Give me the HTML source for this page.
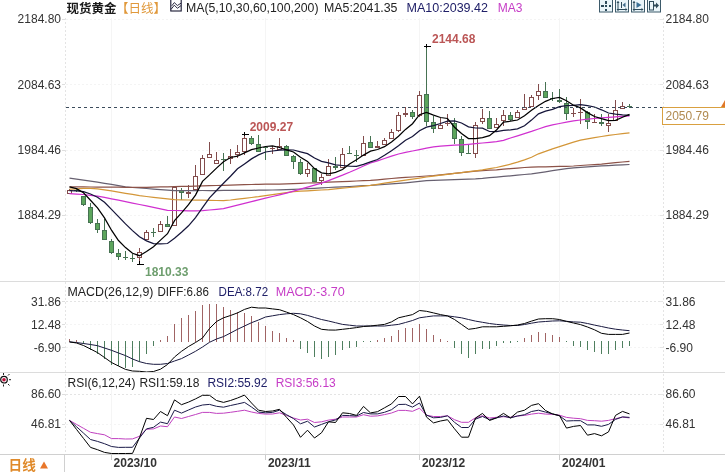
<!DOCTYPE html>
<html><head><meta charset="utf-8">
<style>
html,body{margin:0;padding:0;background:#fff;}
#root{position:relative;width:725px;height:472px;overflow:hidden;background:#fff;font-family:"Liberation Sans","Noto Sans CJK SC",sans-serif;}
</style></head><body><div id="root">
<svg width="725" height="472" viewBox="0 0 725 472" style="position:absolute;left:0;top:0">
<g shape-rendering="crispEdges">
<rect x="0" y="281" width="725" height="1" fill="#dcdcdc"/>
<rect x="0" y="372" width="725" height="1" fill="#dcdcdc"/>
<rect x="0" y="454" width="725" height="1" fill="#d0d0d0"/>
<rect x="64" y="454" width="1" height="18" fill="#d0d0d0"/>
<line x1="65.5" y1="18" x2="65.5" y2="454" stroke="#e4e4e4" stroke-width="1" stroke-dasharray="2,2"/>
<line x1="663.5" y1="18" x2="663.5" y2="454" stroke="#e4e4e4" stroke-width="1" stroke-dasharray="2,2"/>
<line x1="66" y1="19.5" x2="663" y2="19.5" stroke="#f4f4f4" stroke-width="1" stroke-dasharray="2,2"/>
<rect x="62" y="19" width="3" height="1" fill="#dedede"/>
<rect x="660" y="19" width="3" height="1" fill="#e6e6e6"/>
<line x1="66" y1="84.5" x2="663" y2="84.5" stroke="#f4f4f4" stroke-width="1" stroke-dasharray="2,2"/>
<rect x="62" y="84" width="3" height="1" fill="#dedede"/>
<rect x="660" y="84" width="3" height="1" fill="#e6e6e6"/>
<line x1="66" y1="150.5" x2="663" y2="150.5" stroke="#f4f4f4" stroke-width="1" stroke-dasharray="2,2"/>
<rect x="62" y="150" width="3" height="1" fill="#dedede"/>
<rect x="660" y="150" width="3" height="1" fill="#e6e6e6"/>
<line x1="66" y1="215.5" x2="663" y2="215.5" stroke="#f4f4f4" stroke-width="1" stroke-dasharray="2,2"/>
<rect x="62" y="215" width="3" height="1" fill="#dedede"/>
<rect x="660" y="215" width="3" height="1" fill="#e6e6e6"/>
<line x1="66" y1="301.5" x2="663" y2="301.5" stroke="#e4e4e4" stroke-width="1" stroke-dasharray="2,2"/>
<rect x="62" y="301" width="3" height="1" fill="#dedede"/>
<rect x="660" y="301" width="3" height="1" fill="#e6e6e6"/>
<line x1="66" y1="324.5" x2="663" y2="324.5" stroke="#f4f4f4" stroke-width="1" stroke-dasharray="2,2"/>
<rect x="62" y="324" width="3" height="1" fill="#dedede"/>
<rect x="660" y="324" width="3" height="1" fill="#e6e6e6"/>
<line x1="66" y1="347.5" x2="663" y2="347.5" stroke="#f4f4f4" stroke-width="1" stroke-dasharray="2,2"/>
<rect x="62" y="347" width="3" height="1" fill="#dedede"/>
<rect x="660" y="347" width="3" height="1" fill="#e6e6e6"/>
<line x1="66" y1="394.5" x2="663" y2="394.5" stroke="#e4e4e4" stroke-width="1" stroke-dasharray="2,2"/>
<rect x="62" y="394" width="3" height="1" fill="#dedede"/>
<rect x="660" y="394" width="3" height="1" fill="#e6e6e6"/>
<line x1="66" y1="424.5" x2="663" y2="424.5" stroke="#f4f4f4" stroke-width="1" stroke-dasharray="2,2"/>
<rect x="62" y="424" width="3" height="1" fill="#dedede"/>
<rect x="660" y="424" width="3" height="1" fill="#e6e6e6"/>
<line x1="111.5" y1="18" x2="111.5" y2="454" stroke="#f5f5f5" stroke-width="1"/>
<rect x="111" y="455" width="1" height="5" fill="#cccccc"/>
<line x1="265.5" y1="18" x2="265.5" y2="454" stroke="#f5f5f5" stroke-width="1"/>
<rect x="265" y="455" width="1" height="5" fill="#cccccc"/>
<line x1="419.5" y1="18" x2="419.5" y2="454" stroke="#f5f5f5" stroke-width="1"/>
<rect x="419" y="455" width="1" height="5" fill="#cccccc"/>
<line x1="559.5" y1="18" x2="559.5" y2="454" stroke="#f5f5f5" stroke-width="1"/>
<rect x="559" y="455" width="1" height="5" fill="#cccccc"/>
</g>
<g shape-rendering="crispEdges">
<rect x="69" y="189" width="1" height="1" fill="#824c4c"/>
<rect x="67.5" y="190.5" width="4" height="3" fill="#fff" stroke="#824c4c" stroke-width="1"/>
<rect x="76" y="188" width="1" height="2" fill="#467252"/>
<rect x="76" y="191" width="1" height="1" fill="#467252"/>
<rect x="74" y="190" width="5" height="1" fill="#467252"/>
<rect x="83" y="205" width="1" height="1" fill="#467252"/>
<rect x="81.5" y="196.5" width="4" height="8" fill="#5ca55c" stroke="#467252" stroke-width="1"/>
<rect x="90" y="203" width="1" height="4" fill="#467252"/>
<rect x="90" y="223" width="1" height="1" fill="#467252"/>
<rect x="88.5" y="207.5" width="4" height="15" fill="#5ca55c" stroke="#467252" stroke-width="1"/>
<rect x="97" y="219" width="1" height="4" fill="#467252"/>
<rect x="97" y="230" width="1" height="3" fill="#467252"/>
<rect x="95.5" y="223.5" width="4" height="6" fill="#5ca55c" stroke="#467252" stroke-width="1"/>
<rect x="104" y="219" width="1" height="11" fill="#467252"/>
<rect x="102.5" y="230.5" width="4" height="9" fill="#5ca55c" stroke="#467252" stroke-width="1"/>
<rect x="111" y="239" width="1" height="2" fill="#467252"/>
<rect x="111" y="253" width="1" height="1" fill="#467252"/>
<rect x="109.5" y="241.5" width="4" height="11" fill="#5ca55c" stroke="#467252" stroke-width="1"/>
<rect x="118" y="249" width="1" height="4" fill="#467252"/>
<rect x="118" y="257" width="1" height="3" fill="#467252"/>
<rect x="116.5" y="253.5" width="4" height="3" fill="#5ca55c" stroke="#467252" stroke-width="1"/>
<rect x="125" y="251" width="1" height="6" fill="#467252"/>
<rect x="125" y="258" width="1" height="2" fill="#467252"/>
<rect x="123" y="257" width="5" height="1" fill="#467252"/>
<rect x="132" y="254" width="1" height="4" fill="#467252"/>
<rect x="132" y="259" width="1" height="3" fill="#467252"/>
<rect x="130" y="258" width="5" height="1" fill="#467252"/>
<rect x="139" y="248" width="1" height="4" fill="#824c4c"/>
<rect x="139" y="258" width="1" height="6" fill="#824c4c"/>
<rect x="137.5" y="252.5" width="4" height="5" fill="#fff" stroke="#824c4c" stroke-width="1"/>
<rect x="146" y="230" width="1" height="2" fill="#824c4c"/>
<rect x="144.5" y="232.5" width="4" height="7" fill="#fff" stroke="#824c4c" stroke-width="1"/>
<rect x="153" y="228" width="1" height="4" fill="#467252"/>
<rect x="153" y="233" width="1" height="4" fill="#467252"/>
<rect x="151" y="232" width="5" height="1" fill="#467252"/>
<rect x="160" y="221" width="1" height="3" fill="#824c4c"/>
<rect x="158.5" y="224.5" width="4" height="7" fill="#fff" stroke="#824c4c" stroke-width="1"/>
<rect x="167" y="216" width="1" height="8" fill="#467252"/>
<rect x="165.5" y="224.5" width="4" height="2" fill="#5ca55c" stroke="#467252" stroke-width="1"/>
<rect x="174" y="186" width="1" height="1" fill="#824c4c"/>
<rect x="172.5" y="187.5" width="4" height="38" fill="#fff" stroke="#824c4c" stroke-width="1"/>
<rect x="181" y="188" width="1" height="2" fill="#467252"/>
<rect x="181" y="193" width="1" height="7" fill="#467252"/>
<rect x="179.5" y="190.5" width="4" height="2" fill="#5ca55c" stroke="#467252" stroke-width="1"/>
<rect x="188" y="185" width="1" height="7" fill="#824c4c"/>
<rect x="188" y="194" width="1" height="4" fill="#824c4c"/>
<rect x="186" y="192" width="5" height="2" fill="#824c4c"/>
<rect x="195" y="165" width="1" height="11" fill="#824c4c"/>
<rect x="193.5" y="176.5" width="4" height="13" fill="#fff" stroke="#824c4c" stroke-width="1"/>
<rect x="202" y="155" width="1" height="3" fill="#824c4c"/>
<rect x="200.5" y="158.5" width="4" height="16" fill="#fff" stroke="#824c4c" stroke-width="1"/>
<rect x="209" y="142" width="1" height="12" fill="#824c4c"/>
<rect x="207.5" y="154.5" width="4" height="3" fill="#fff" stroke="#824c4c" stroke-width="1"/>
<rect x="216" y="152" width="1" height="8" fill="#824c4c"/>
<rect x="214.5" y="160.5" width="4" height="3" fill="#fff" stroke="#824c4c" stroke-width="1"/>
<rect x="223" y="153" width="1" height="6" fill="#467252"/>
<rect x="223" y="160" width="1" height="11" fill="#467252"/>
<rect x="221" y="159" width="5" height="1" fill="#467252"/>
<rect x="230" y="149" width="1" height="7" fill="#824c4c"/>
<rect x="230" y="159" width="1" height="5" fill="#824c4c"/>
<rect x="228.5" y="156.5" width="4" height="2" fill="#fff" stroke="#824c4c" stroke-width="1"/>
<rect x="237" y="145" width="1" height="7" fill="#824c4c"/>
<rect x="237" y="155" width="1" height="3" fill="#824c4c"/>
<rect x="235.5" y="152.5" width="4" height="2" fill="#fff" stroke="#824c4c" stroke-width="1"/>
<rect x="244" y="134" width="1" height="4" fill="#824c4c"/>
<rect x="244" y="152" width="1" height="3" fill="#824c4c"/>
<rect x="242.5" y="138.5" width="4" height="13" fill="#fff" stroke="#824c4c" stroke-width="1"/>
<rect x="251" y="136" width="1" height="2" fill="#467252"/>
<rect x="251" y="144" width="1" height="1" fill="#467252"/>
<rect x="249.5" y="138.5" width="4" height="5" fill="#5ca55c" stroke="#467252" stroke-width="1"/>
<rect x="258" y="135" width="1" height="9" fill="#467252"/>
<rect x="256.5" y="144.5" width="4" height="7" fill="#5ca55c" stroke="#467252" stroke-width="1"/>
<rect x="265" y="146" width="1" height="1" fill="#467252"/>
<rect x="265" y="148" width="1" height="12" fill="#467252"/>
<rect x="263" y="147" width="5" height="1" fill="#467252"/>
<rect x="272" y="146" width="1" height="2" fill="#824c4c"/>
<rect x="272" y="149" width="1" height="5" fill="#824c4c"/>
<rect x="270" y="148" width="5" height="1" fill="#824c4c"/>
<rect x="279" y="138" width="1" height="8" fill="#824c4c"/>
<rect x="277.5" y="146.5" width="4" height="3" fill="#fff" stroke="#824c4c" stroke-width="1"/>
<rect x="286" y="145" width="1" height="1" fill="#467252"/>
<rect x="284.5" y="146.5" width="4" height="9" fill="#5ca55c" stroke="#467252" stroke-width="1"/>
<rect x="293" y="155" width="1" height="1" fill="#467252"/>
<rect x="293" y="162" width="1" height="7" fill="#467252"/>
<rect x="291.5" y="156.5" width="4" height="5" fill="#5ca55c" stroke="#467252" stroke-width="1"/>
<rect x="300" y="159" width="1" height="3" fill="#467252"/>
<rect x="300" y="174" width="1" height="1" fill="#467252"/>
<rect x="298.5" y="162.5" width="4" height="11" fill="#5ca55c" stroke="#467252" stroke-width="1"/>
<rect x="307" y="163" width="1" height="6" fill="#824c4c"/>
<rect x="307" y="174" width="1" height="3" fill="#824c4c"/>
<rect x="305.5" y="169.5" width="4" height="4" fill="#fff" stroke="#824c4c" stroke-width="1"/>
<rect x="312.5" y="168.5" width="4" height="13" fill="#5ca55c" stroke="#467252" stroke-width="1"/>
<rect x="321" y="174" width="1" height="3" fill="#824c4c"/>
<rect x="321" y="181" width="1" height="4" fill="#824c4c"/>
<rect x="319.5" y="177.5" width="4" height="3" fill="#fff" stroke="#824c4c" stroke-width="1"/>
<rect x="328" y="159" width="1" height="7" fill="#824c4c"/>
<rect x="326.5" y="166.5" width="4" height="9" fill="#fff" stroke="#824c4c" stroke-width="1"/>
<rect x="335" y="157" width="1" height="9" fill="#467252"/>
<rect x="335" y="168" width="1" height="2" fill="#467252"/>
<rect x="333" y="166" width="5" height="2" fill="#467252"/>
<rect x="342" y="148" width="1" height="6" fill="#824c4c"/>
<rect x="340.5" y="154.5" width="4" height="13" fill="#fff" stroke="#824c4c" stroke-width="1"/>
<rect x="349" y="146" width="1" height="7" fill="#467252"/>
<rect x="347" y="153" width="5" height="1" fill="#467252"/>
<rect x="356" y="150" width="1" height="5" fill="#467252"/>
<rect x="356" y="156" width="1" height="6" fill="#467252"/>
<rect x="354" y="155" width="5" height="1" fill="#467252"/>
<rect x="363" y="136" width="1" height="7" fill="#824c4c"/>
<rect x="361.5" y="143.5" width="4" height="12" fill="#fff" stroke="#824c4c" stroke-width="1"/>
<rect x="370" y="136" width="1" height="6" fill="#467252"/>
<rect x="368.5" y="142.5" width="4" height="5" fill="#5ca55c" stroke="#467252" stroke-width="1"/>
<rect x="377" y="141" width="1" height="5" fill="#824c4c"/>
<rect x="375" y="146" width="5" height="2" fill="#824c4c"/>
<rect x="384" y="138" width="1" height="2" fill="#824c4c"/>
<rect x="382.5" y="140.5" width="4" height="4" fill="#fff" stroke="#824c4c" stroke-width="1"/>
<rect x="391" y="129" width="1" height="3" fill="#824c4c"/>
<rect x="389.5" y="132.5" width="4" height="6" fill="#fff" stroke="#824c4c" stroke-width="1"/>
<rect x="398" y="112" width="1" height="3" fill="#824c4c"/>
<rect x="398" y="131" width="1" height="1" fill="#824c4c"/>
<rect x="396.5" y="115.5" width="4" height="15" fill="#fff" stroke="#824c4c" stroke-width="1"/>
<rect x="405" y="107" width="1" height="6" fill="#824c4c"/>
<rect x="405" y="115" width="1" height="2" fill="#824c4c"/>
<rect x="403" y="113" width="5" height="2" fill="#824c4c"/>
<rect x="412" y="110" width="1" height="2" fill="#467252"/>
<rect x="412" y="117" width="1" height="2" fill="#467252"/>
<rect x="410.5" y="112.5" width="4" height="4" fill="#5ca55c" stroke="#467252" stroke-width="1"/>
<rect x="419" y="91" width="1" height="4" fill="#824c4c"/>
<rect x="419" y="116" width="1" height="1" fill="#824c4c"/>
<rect x="417.5" y="95.5" width="4" height="20" fill="#fff" stroke="#824c4c" stroke-width="1"/>
<rect x="426" y="46" width="1" height="48" fill="#467252"/>
<rect x="426" y="122" width="1" height="4" fill="#467252"/>
<rect x="424.5" y="94.5" width="4" height="27" fill="#5ca55c" stroke="#467252" stroke-width="1"/>
<rect x="433" y="116" width="1" height="6" fill="#467252"/>
<rect x="433" y="129" width="1" height="4" fill="#467252"/>
<rect x="431.5" y="122.5" width="4" height="6" fill="#5ca55c" stroke="#467252" stroke-width="1"/>
<rect x="440" y="118" width="1" height="7" fill="#824c4c"/>
<rect x="438.5" y="125.5" width="4" height="3" fill="#fff" stroke="#824c4c" stroke-width="1"/>
<rect x="447" y="114" width="1" height="9" fill="#824c4c"/>
<rect x="447" y="124" width="1" height="2" fill="#824c4c"/>
<rect x="445" y="123" width="5" height="1" fill="#824c4c"/>
<rect x="454" y="118" width="1" height="5" fill="#467252"/>
<rect x="454" y="139" width="1" height="5" fill="#467252"/>
<rect x="452.5" y="123.5" width="4" height="15" fill="#5ca55c" stroke="#467252" stroke-width="1"/>
<rect x="461" y="136" width="1" height="3" fill="#467252"/>
<rect x="461" y="153" width="1" height="3" fill="#467252"/>
<rect x="459.5" y="139.5" width="4" height="13" fill="#5ca55c" stroke="#467252" stroke-width="1"/>
<rect x="468" y="144" width="1" height="9" fill="#467252"/>
<rect x="466" y="153" width="5" height="1" fill="#467252"/>
<rect x="475" y="122" width="1" height="3" fill="#824c4c"/>
<rect x="475" y="154" width="1" height="4" fill="#824c4c"/>
<rect x="473.5" y="125.5" width="4" height="28" fill="#fff" stroke="#824c4c" stroke-width="1"/>
<rect x="482" y="109" width="1" height="9" fill="#824c4c"/>
<rect x="482" y="122" width="1" height="2" fill="#824c4c"/>
<rect x="480.5" y="118.5" width="4" height="3" fill="#fff" stroke="#824c4c" stroke-width="1"/>
<rect x="489" y="111" width="1" height="7" fill="#467252"/>
<rect x="487.5" y="118.5" width="4" height="10" fill="#5ca55c" stroke="#467252" stroke-width="1"/>
<rect x="496" y="118" width="1" height="6" fill="#824c4c"/>
<rect x="494.5" y="124.5" width="4" height="3" fill="#fff" stroke="#824c4c" stroke-width="1"/>
<rect x="503" y="110" width="1" height="5" fill="#824c4c"/>
<rect x="503" y="121" width="1" height="5" fill="#824c4c"/>
<rect x="501.5" y="115.5" width="4" height="5" fill="#fff" stroke="#824c4c" stroke-width="1"/>
<rect x="510" y="112" width="1" height="3" fill="#467252"/>
<rect x="510" y="120" width="1" height="1" fill="#467252"/>
<rect x="508.5" y="115.5" width="4" height="4" fill="#5ca55c" stroke="#467252" stroke-width="1"/>
<rect x="517" y="110" width="1" height="2" fill="#824c4c"/>
<rect x="515.5" y="112.5" width="4" height="5" fill="#fff" stroke="#824c4c" stroke-width="1"/>
<rect x="524" y="94" width="1" height="13" fill="#824c4c"/>
<rect x="522.5" y="107.5" width="4" height="2" fill="#fff" stroke="#824c4c" stroke-width="1"/>
<rect x="531" y="95" width="1" height="2" fill="#824c4c"/>
<rect x="529.5" y="97.5" width="4" height="9" fill="#fff" stroke="#824c4c" stroke-width="1"/>
<rect x="538" y="84" width="1" height="7" fill="#824c4c"/>
<rect x="538" y="96" width="1" height="4" fill="#824c4c"/>
<rect x="536.5" y="91.5" width="4" height="4" fill="#fff" stroke="#824c4c" stroke-width="1"/>
<rect x="545" y="82" width="1" height="9" fill="#467252"/>
<rect x="543.5" y="91.5" width="4" height="6" fill="#5ca55c" stroke="#467252" stroke-width="1"/>
<rect x="552" y="92" width="1" height="6" fill="#467252"/>
<rect x="552" y="99" width="1" height="2" fill="#467252"/>
<rect x="550" y="98" width="5" height="1" fill="#467252"/>
<rect x="559" y="89" width="1" height="11" fill="#467252"/>
<rect x="559" y="102" width="1" height="1" fill="#467252"/>
<rect x="557" y="100" width="5" height="2" fill="#467252"/>
<rect x="566" y="97" width="1" height="6" fill="#467252"/>
<rect x="566" y="114" width="1" height="6" fill="#467252"/>
<rect x="564.5" y="103.5" width="4" height="10" fill="#5ca55c" stroke="#467252" stroke-width="1"/>
<rect x="573" y="108" width="1" height="5" fill="#824c4c"/>
<rect x="573" y="114" width="1" height="3" fill="#824c4c"/>
<rect x="571" y="113" width="5" height="1" fill="#824c4c"/>
<rect x="580" y="99" width="1" height="13" fill="#824c4c"/>
<rect x="580" y="113" width="1" height="11" fill="#824c4c"/>
<rect x="578" y="112" width="5" height="1" fill="#824c4c"/>
<rect x="587" y="111" width="1" height="1" fill="#467252"/>
<rect x="587" y="122" width="1" height="7" fill="#467252"/>
<rect x="585.5" y="112.5" width="4" height="9" fill="#5ca55c" stroke="#467252" stroke-width="1"/>
<rect x="594" y="114" width="1" height="8" fill="#824c4c"/>
<rect x="592" y="122" width="5" height="1" fill="#824c4c"/>
<rect x="601" y="114" width="1" height="8" fill="#467252"/>
<rect x="601" y="124" width="1" height="2" fill="#467252"/>
<rect x="599" y="122" width="5" height="2" fill="#467252"/>
<rect x="608" y="114" width="1" height="9" fill="#824c4c"/>
<rect x="608" y="126" width="1" height="6" fill="#824c4c"/>
<rect x="606.5" y="123.5" width="4" height="2" fill="#fff" stroke="#824c4c" stroke-width="1"/>
<rect x="615" y="100" width="1" height="10" fill="#824c4c"/>
<rect x="613.5" y="110.5" width="4" height="10" fill="#fff" stroke="#824c4c" stroke-width="1"/>
<rect x="622" y="102" width="1" height="4" fill="#824c4c"/>
<rect x="620.5" y="106.5" width="4" height="2" fill="#fff" stroke="#824c4c" stroke-width="1"/>
<rect x="629" y="104" width="1" height="2" fill="#467252"/>
<rect x="629" y="107" width="1" height="1" fill="#467252"/>
<rect x="627" y="106" width="5" height="1" fill="#467252"/>
</g>
<polyline points="69.5,178.1 76.5,179.1 83.5,180.1 90.5,181.1 97.5,182.1 104.5,183.3 111.5,184.4 118.5,185.6 125.5,186.8 132.5,187.5 139.5,188.0 146.5,188.5 153.5,189.1 160.5,189.6 167.5,190.1 174.5,190.6 181.5,190.7 188.5,190.6 195.5,190.6 202.5,190.5 209.5,190.5 216.5,190.5 223.5,190.4 230.5,190.4 237.5,190.3 244.5,190.3 251.5,190.3 258.5,190.2 265.5,190.1 272.5,190.0 279.5,189.9 286.5,189.7 293.5,189.4 300.5,189.0 307.5,188.6 314.5,188.3 321.5,187.9 328.5,187.5 335.5,187.2 342.5,186.8 349.5,186.5 356.5,186.1 363.5,185.7 370.5,185.4 377.5,184.9 384.5,184.4 391.5,183.9 398.5,183.4 405.5,182.8 412.5,182.1 419.5,181.4 426.5,180.7 433.5,180.3 440.5,180.1 447.5,179.8 454.5,179.6 461.5,179.4 468.5,179.1 475.5,178.9 482.5,178.4 489.5,177.7 496.5,177.1 503.5,176.4 510.5,175.8 517.5,175.2 524.5,174.5 531.5,173.8 538.5,172.8 545.5,171.8 552.5,170.7 559.5,169.7 566.5,168.7 573.5,167.9 580.5,167.4 587.5,166.9 594.5,166.4 601.5,165.9 608.5,165.6 615.5,165.2 622.5,164.8 629.5,164.5" fill="none" stroke="#676070" stroke-width="1.25" />
<polyline points="69.5,186.8 76.5,186.9 83.5,186.9 90.5,187.0 97.5,187.0 104.5,187.1 111.5,187.2 118.5,187.2 125.5,187.3 132.5,187.3 139.5,187.4 146.5,187.3 153.5,187.1 160.5,186.9 167.5,186.8 174.5,186.6 181.5,186.4 188.5,186.3 195.5,186.1 202.5,185.9 209.5,185.7 216.5,185.5 223.5,185.3 230.5,185.1 237.5,184.9 244.5,184.7 251.5,184.5 258.5,184.3 265.5,184.2 272.5,184.2 279.5,184.1 286.5,183.9 293.5,183.6 300.5,183.3 307.5,183.0 314.5,182.8 321.5,182.5 328.5,182.2 335.5,181.9 342.5,181.6 349.5,181.3 356.5,181.0 363.5,180.7 370.5,180.4 377.5,179.8 384.5,179.1 391.5,178.5 398.5,177.9 405.5,177.4 412.5,177.0 419.5,176.5 426.5,176.0 433.5,175.5 440.5,174.8 447.5,174.1 454.5,173.3 461.5,172.7 468.5,171.9 475.5,171.2 482.5,170.7 489.5,170.2 496.5,169.8 503.5,169.2 510.5,168.7 517.5,168.1 524.5,167.5 531.5,167.1 538.5,166.9 545.5,166.8 552.5,166.6 559.5,166.4 566.5,166.3 573.5,166.0 580.5,165.5 587.5,165.0 594.5,164.6 601.5,164.1 608.5,163.4 615.5,162.7 622.5,162.0 629.5,161.4" fill="none" stroke="#8c5248" stroke-width="1.25" />
<polyline points="69.5,189.2 76.5,188.8 83.5,188.4 90.5,188.4 97.5,188.8 104.5,189.8 111.5,190.9 118.5,192.1 125.5,193.3 132.5,194.4 139.5,195.6 146.5,196.5 153.5,197.3 160.5,198.1 167.5,198.9 174.5,199.7 181.5,199.9 188.5,200.0 195.5,200.1 202.5,200.2 209.5,200.4 216.5,200.5 223.5,200.6 230.5,200.0 237.5,199.1 244.5,198.3 251.5,197.5 258.5,196.7 265.5,195.7 272.5,194.7 279.5,193.7 286.5,192.7 293.5,191.7 300.5,191.2 307.5,190.8 314.5,190.4 321.5,190.0 328.5,189.6 335.5,188.9 342.5,188.2 349.5,187.5 356.5,186.8 363.5,186.1 370.5,185.3 377.5,184.3 384.5,183.2 391.5,182.2 398.5,181.2 405.5,180.1 412.5,179.1 419.5,178.1 426.5,177.0 433.5,176.1 440.5,175.2 447.5,174.3 454.5,173.4 461.5,172.6 468.5,171.7 475.5,170.8 482.5,169.8 489.5,168.6 496.5,167.5 503.5,165.9 510.5,164.2 517.5,162.2 524.5,159.9 531.5,157.3 538.5,153.8 545.5,151.3 552.5,148.9 559.5,146.6 566.5,144.3 573.5,142.2 580.5,140.1 587.5,138.8 594.5,137.6 601.5,136.5 608.5,135.4 615.5,134.5 622.5,133.7 629.5,132.9" fill="none" stroke="#d39638" stroke-width="1.25" />
<polyline points="69.5,193.6 76.5,194.1 83.5,194.5 90.5,195.3 97.5,196.2 104.5,197.4 111.5,198.8 118.5,200.2 125.5,201.7 132.5,203.1 139.5,204.5 146.5,205.9 153.5,207.4 160.5,208.8 167.5,210.3 174.5,210.5 181.5,210.7 188.5,210.8 195.5,210.9 202.5,210.7 209.5,210.0 216.5,209.3 223.5,208.6 230.5,206.9 237.5,205.1 244.5,203.4 251.5,201.6 258.5,199.9 265.5,198.2 272.5,196.5 279.5,194.8 286.5,193.1 293.5,191.1 300.5,189.2 307.5,187.2 314.5,185.2 321.5,183.2 328.5,180.6 335.5,177.9 342.5,175.2 349.5,172.3 356.5,169.2 363.5,166.0 370.5,163.0 377.5,160.8 384.5,158.5 391.5,156.2 398.5,154.0 405.5,152.4 412.5,151.0 419.5,149.6 426.5,148.2 433.5,146.8 440.5,146.1 447.5,145.7 454.5,145.2 461.5,144.8 468.5,144.3 475.5,143.7 482.5,143.0 489.5,142.4 496.5,141.7 503.5,140.3 510.5,138.0 517.5,135.8 524.5,133.6 531.5,131.4 538.5,129.0 545.5,126.7 552.5,124.9 559.5,123.5 566.5,122.2 573.5,120.8 580.5,120.0 587.5,119.2 594.5,118.5 601.5,117.9 608.5,117.4 615.5,116.9 622.5,116.4 629.5,116.0" fill="none" stroke="#d030d0" stroke-width="1.25" />
<polyline points="69.5,190.7 76.5,190.8 83.5,191.7 90.5,194.0 97.5,197.2 104.5,202.3 111.5,209.4 118.5,216.6 125.5,223.9 132.5,230.6 139.5,236.8 146.5,240.9 153.5,243.7 160.5,243.8 167.5,243.5 174.5,238.2 181.5,232.2 188.5,225.8 195.5,217.6 202.5,207.6 209.5,197.8 216.5,190.5 223.5,183.2 230.5,176.3 237.5,168.8 244.5,163.9 251.5,158.9 258.5,154.9 265.5,152.0 272.5,151.0 279.5,150.2 286.5,149.8 293.5,150.0 300.5,151.9 307.5,153.7 314.5,158.0 321.5,161.4 328.5,162.9 335.5,164.8 342.5,165.5 349.5,166.2 356.5,166.3 363.5,164.4 370.5,161.8 377.5,159.5 384.5,155.3 391.5,150.8 398.5,145.7 405.5,140.3 412.5,136.6 419.5,130.7 426.5,127.2 433.5,125.7 440.5,123.5 447.5,121.1 454.5,121.0 461.5,123.0 468.5,126.9 475.5,128.0 482.5,128.1 489.5,131.5 496.5,131.7 503.5,130.4 510.5,129.9 517.5,128.9 524.5,125.7 531.5,120.1 538.5,113.9 545.5,111.2 552.5,109.3 559.5,106.6 566.5,105.6 573.5,105.3 580.5,104.6 587.5,105.6 594.5,107.0 601.5,109.8 608.5,113.0 615.5,114.2 622.5,114.9 629.5,115.4" fill="none" stroke="#15153a" stroke-width="1.25" />
<polyline points="69.5,186.8 76.5,188.6 83.5,192.7 90.5,200.2 97.5,207.9 104.5,217.9 111.5,230.2 118.5,240.5 125.5,247.6 132.5,253.3 139.5,255.7 146.5,251.5 153.5,246.8 160.5,240.1 167.5,233.7 174.5,220.7 181.5,212.9 188.5,204.7 195.5,195.1 202.5,181.4 209.5,174.9 216.5,168.1 223.5,161.7 230.5,157.5 237.5,156.2 244.5,152.9 251.5,149.7 258.5,148.0 265.5,146.5 272.5,145.8 279.5,147.5 286.5,149.9 293.5,152.0 300.5,157.2 307.5,161.5 314.5,168.6 321.5,172.9 328.5,173.8 335.5,172.4 342.5,169.5 349.5,163.9 356.5,159.7 363.5,155.1 370.5,151.1 377.5,149.5 384.5,146.7 391.5,141.9 398.5,136.3 405.5,129.4 412.5,123.7 419.5,114.7 426.5,112.5 433.5,115.2 440.5,117.5 447.5,118.5 454.5,127.2 461.5,133.5 468.5,138.6 475.5,138.6 482.5,137.7 489.5,135.7 496.5,130.0 503.5,122.2 510.5,121.2 517.5,120.0 524.5,115.7 531.5,110.3 538.5,105.5 545.5,101.3 552.5,98.5 559.5,97.5 566.5,100.8 573.5,105.2 580.5,107.9 587.5,112.6 594.5,116.5 601.5,118.7 608.5,120.7 615.5,120.4 622.5,117.2 629.5,114.3" fill="none" stroke="#000000" stroke-width="1.25" />
<line x1="66" y1="107.5" x2="662" y2="107.5" stroke="#3c4c5c" stroke-width="1" stroke-dasharray="3,3" shape-rendering="crispEdges"/>
<g shape-rendering="crispEdges">
<rect x="69" y="339" width="1" height="3" fill="#a06464"/>
<rect x="76" y="340" width="1" height="2" fill="#a06464"/>
<rect x="83" y="341" width="1" height="3" fill="#4f7f5f"/>
<rect x="90" y="341" width="1" height="9" fill="#4f7f5f"/>
<rect x="97" y="341" width="1" height="13" fill="#4f7f5f"/>
<rect x="104" y="341" width="1" height="18" fill="#4f7f5f"/>
<rect x="111" y="341" width="1" height="24" fill="#4f7f5f"/>
<rect x="118" y="341" width="1" height="25" fill="#4f7f5f"/>
<rect x="125" y="341" width="1" height="27" fill="#4f7f5f"/>
<rect x="132" y="341" width="1" height="26" fill="#4f7f5f"/>
<rect x="139" y="341" width="1" height="21" fill="#4f7f5f"/>
<rect x="146" y="341" width="1" height="13" fill="#4f7f5f"/>
<rect x="153" y="341" width="1" height="5" fill="#4f7f5f"/>
<rect x="160" y="340" width="1" height="2" fill="#a06464"/>
<rect x="167" y="336" width="1" height="6" fill="#a06464"/>
<rect x="174" y="324" width="1" height="18" fill="#a06464"/>
<rect x="181" y="318" width="1" height="24" fill="#a06464"/>
<rect x="188" y="315" width="1" height="27" fill="#a06464"/>
<rect x="195" y="311" width="1" height="31" fill="#a06464"/>
<rect x="202" y="305" width="1" height="37" fill="#a06464"/>
<rect x="209" y="304" width="1" height="38" fill="#a06464"/>
<rect x="216" y="304" width="1" height="38" fill="#a06464"/>
<rect x="223" y="307" width="1" height="35" fill="#a06464"/>
<rect x="230" y="310" width="1" height="32" fill="#a06464"/>
<rect x="237" y="312" width="1" height="30" fill="#a06464"/>
<rect x="244" y="313" width="1" height="29" fill="#a06464"/>
<rect x="251" y="316" width="1" height="26" fill="#a06464"/>
<rect x="258" y="322" width="1" height="20" fill="#a06464"/>
<rect x="265" y="326" width="1" height="16" fill="#a06464"/>
<rect x="272" y="331" width="1" height="11" fill="#a06464"/>
<rect x="279" y="333" width="1" height="9" fill="#a06464"/>
<rect x="286" y="338" width="1" height="4" fill="#a06464"/>
<rect x="293" y="340" width="1" height="2" fill="#a06464"/>
<rect x="300" y="341" width="1" height="8" fill="#4f7f5f"/>
<rect x="307" y="341" width="1" height="12" fill="#4f7f5f"/>
<rect x="314" y="341" width="1" height="16" fill="#4f7f5f"/>
<rect x="321" y="341" width="1" height="18" fill="#4f7f5f"/>
<rect x="328" y="341" width="1" height="16" fill="#4f7f5f"/>
<rect x="335" y="341" width="1" height="14" fill="#4f7f5f"/>
<rect x="342" y="341" width="1" height="9" fill="#4f7f5f"/>
<rect x="349" y="341" width="1" height="7" fill="#4f7f5f"/>
<rect x="356" y="341" width="1" height="6" fill="#4f7f5f"/>
<rect x="363" y="341" width="1" height="1" fill="#4f7f5f"/>
<rect x="370" y="341" width="1" height="1" fill="#4f7f5f"/>
<rect x="377" y="340" width="1" height="2" fill="#a06464"/>
<rect x="384" y="338" width="1" height="4" fill="#a06464"/>
<rect x="391" y="336" width="1" height="6" fill="#a06464"/>
<rect x="398" y="330" width="1" height="12" fill="#a06464"/>
<rect x="405" y="328" width="1" height="14" fill="#a06464"/>
<rect x="412" y="328" width="1" height="14" fill="#a06464"/>
<rect x="419" y="324" width="1" height="18" fill="#a06464"/>
<rect x="426" y="329" width="1" height="13" fill="#a06464"/>
<rect x="433" y="335" width="1" height="7" fill="#a06464"/>
<rect x="440" y="339" width="1" height="3" fill="#a06464"/>
<rect x="447" y="341" width="1" height="1" fill="#a06464"/>
<rect x="454" y="341" width="1" height="7" fill="#4f7f5f"/>
<rect x="461" y="341" width="1" height="13" fill="#4f7f5f"/>
<rect x="468" y="341" width="1" height="17" fill="#4f7f5f"/>
<rect x="475" y="341" width="1" height="13" fill="#4f7f5f"/>
<rect x="482" y="341" width="1" height="8" fill="#4f7f5f"/>
<rect x="489" y="341" width="1" height="8" fill="#4f7f5f"/>
<rect x="496" y="341" width="1" height="5" fill="#4f7f5f"/>
<rect x="503" y="341" width="1" height="2" fill="#4f7f5f"/>
<rect x="510" y="341" width="1" height="2" fill="#4f7f5f"/>
<rect x="517" y="341" width="1" height="1" fill="#4f7f5f"/>
<rect x="524" y="338" width="1" height="4" fill="#a06464"/>
<rect x="531" y="335" width="1" height="7" fill="#a06464"/>
<rect x="538" y="332" width="1" height="10" fill="#a06464"/>
<rect x="545" y="333" width="1" height="9" fill="#a06464"/>
<rect x="552" y="335" width="1" height="7" fill="#a06464"/>
<rect x="559" y="337" width="1" height="5" fill="#a06464"/>
<rect x="566" y="341" width="1" height="1" fill="#4f7f5f"/>
<rect x="573" y="341" width="1" height="5" fill="#4f7f5f"/>
<rect x="580" y="341" width="1" height="6" fill="#4f7f5f"/>
<rect x="587" y="341" width="1" height="9" fill="#4f7f5f"/>
<rect x="594" y="341" width="1" height="11" fill="#4f7f5f"/>
<rect x="601" y="341" width="1" height="13" fill="#4f7f5f"/>
<rect x="608" y="341" width="1" height="13" fill="#4f7f5f"/>
<rect x="615" y="341" width="1" height="9" fill="#4f7f5f"/>
<rect x="622" y="341" width="1" height="7" fill="#4f7f5f"/>
<rect x="629" y="341" width="1" height="5" fill="#4f7f5f"/>
</g>
<clipPath id="cm"><rect x="65" y="282" width="598" height="90"/></clipPath>
<clipPath id="cr"><rect x="65" y="373" width="598" height="81"/></clipPath>
<g clip-path="url(#cm)">
<polyline points="69.5,341.9 76.5,342.5 83.5,343.5 90.5,344.5 97.5,345.7 104.5,348.0 111.5,350.3 118.5,353.0 125.5,355.6 132.5,359.0 139.5,361.7 146.5,363.5 153.5,364.3 160.5,364.3 167.5,363.5 174.5,361.0 181.5,358.6 188.5,355.0 195.5,351.3 202.5,347.0 209.5,342.3 216.5,339.0 223.5,336.6 230.5,333.0 237.5,329.3 244.5,326.0 251.5,322.7 258.5,320.0 265.5,317.0 272.5,315.8 279.5,314.6 286.5,313.8 293.5,313.3 300.5,313.8 307.5,315.4 314.5,317.5 321.5,319.5 328.5,321.0 335.5,322.7 342.5,324.4 349.5,325.2 356.5,326.0 363.5,326.0 370.5,326.0 377.5,326.0 384.5,326.0 391.5,325.2 398.5,324.4 405.5,322.5 412.5,320.5 419.5,317.8 426.5,316.8 433.5,315.9 440.5,315.9 447.5,315.9 454.5,316.8 461.5,317.8 468.5,319.5 475.5,321.1 482.5,322.3 489.5,323.5 496.5,324.4 503.5,325.0 510.5,325.5 517.5,325.5 524.5,324.5 531.5,323.2 538.5,322.0 545.5,321.5 552.5,321.0 559.5,320.8 566.5,321.3 573.5,321.9 580.5,322.2 587.5,323.5 594.5,325.1 601.5,326.5 608.5,328.0 615.5,329.2 622.5,330.0 629.5,330.7" fill="none" stroke="#1a1a40" stroke-width="1.0" />
<polyline points="69.5,341.9 76.5,343.0 83.5,345.5 90.5,349.0 97.5,352.6 104.5,357.5 111.5,362.5 118.5,366.0 125.5,369.4 132.5,371.0 139.5,371.3 146.5,372.0 153.5,371.5 160.5,369.2 167.5,364.5 174.5,357.0 181.5,351.3 188.5,346.5 195.5,342.5 202.5,338.0 209.5,328.5 216.5,321.5 223.5,317.8 230.5,315.5 237.5,312.9 244.5,309.4 251.5,307.2 258.5,308.0 265.5,308.0 272.5,308.9 279.5,309.7 286.5,312.1 293.5,314.6 300.5,317.8 307.5,321.5 314.5,326.0 321.5,329.3 328.5,330.0 335.5,330.1 342.5,329.3 349.5,328.5 356.5,327.6 363.5,326.5 370.5,326.0 377.5,325.2 384.5,324.4 391.5,321.9 398.5,317.8 405.5,316.2 412.5,314.6 419.5,310.5 426.5,311.3 433.5,312.9 440.5,314.6 447.5,315.9 454.5,319.5 461.5,324.4 468.5,329.3 475.5,328.4 482.5,326.8 489.5,326.8 496.5,326.8 503.5,326.3 510.5,325.8 517.5,325.0 524.5,323.5 531.5,321.1 538.5,319.0 545.5,318.7 552.5,318.7 559.5,319.5 566.5,321.4 573.5,323.0 580.5,324.6 587.5,327.0 594.5,329.8 601.5,333.3 608.5,334.4 615.5,334.4 622.5,334.4 629.5,333.0" fill="none" stroke="#000" stroke-width="1.0" />
</g>
<g clip-path="url(#cr)">
<polyline points="69.5,420.4 76.5,424.4 83.5,428.3 90.5,432.3 97.5,433.6 104.5,434.8 111.5,438.6 118.5,438.6 125.5,439.0 132.5,438.9 139.5,436.3 146.5,429.2 153.5,428.9 160.5,426.0 167.5,426.7 174.5,417.0 181.5,418.5 188.5,416.5 195.5,414.5 202.5,412.4 209.5,412.4 216.5,413.4 223.5,413.2 230.5,412.3 237.5,411.3 244.5,410.2 251.5,412.0 258.5,413.4 265.5,414.1 272.5,414.0 279.5,412.8 286.5,415.4 293.5,418.0 300.5,420.0 307.5,419.2 314.5,422.5 321.5,421.8 328.5,420.1 335.5,419.2 342.5,417.0 349.5,417.0 356.5,417.0 363.5,414.7 370.5,416.2 377.5,415.9 384.5,414.6 391.5,413.0 398.5,410.4 405.5,410.4 412.5,411.3 419.5,408.2 426.5,415.2 433.5,416.5 440.5,416.5 447.5,415.8 454.5,419.7 461.5,422.3 468.5,422.3 475.5,417.8 482.5,415.8 489.5,418.0 496.5,417.3 503.5,416.7 510.5,417.3 517.5,416.0 524.5,415.4 531.5,414.1 538.5,413.2 545.5,414.1 552.5,414.3 559.5,415.2 566.5,417.4 573.5,418.2 580.5,418.7 587.5,420.4 594.5,420.7 601.5,421.2 608.5,420.4 615.5,418.7 622.5,417.1 629.5,417.9" fill="none" stroke="#c040c0" stroke-width="1.0" />
<polyline points="69.5,420.4 76.5,426.7 83.5,433.1 90.5,439.5 97.5,441.4 104.5,443.7 111.5,446.5 118.5,447.4 125.5,447.3 132.5,447.3 139.5,438.0 146.5,428.9 153.5,427.3 160.5,422.1 167.5,423.7 174.5,410.2 181.5,413.1 188.5,410.0 195.5,407.0 202.5,405.0 209.5,404.4 216.5,406.3 223.5,407.2 230.5,405.5 237.5,404.0 244.5,402.4 251.5,407.0 258.5,412.1 265.5,412.8 272.5,412.4 279.5,410.2 286.5,414.7 293.5,418.6 300.5,423.8 307.5,421.2 314.5,427.0 321.5,424.4 328.5,421.8 335.5,419.9 342.5,415.4 349.5,415.6 356.5,416.0 363.5,412.5 370.5,413.9 377.5,413.9 384.5,412.3 391.5,409.7 398.5,404.5 405.5,404.3 412.5,407.1 419.5,403.0 426.5,415.2 433.5,417.8 440.5,417.4 447.5,415.8 454.5,422.3 461.5,427.5 468.5,427.5 475.5,419.1 482.5,416.5 489.5,419.6 496.5,417.9 503.5,416.0 510.5,417.9 517.5,416.0 524.5,414.7 531.5,411.5 538.5,410.2 545.5,412.1 552.5,413.9 559.5,415.8 566.5,421.0 573.5,420.7 580.5,420.7 587.5,424.9 594.5,424.9 601.5,426.3 608.5,424.4 615.5,419.4 622.5,416.9 629.5,417.4" fill="none" stroke="#1a1a48" stroke-width="1.0" />
<polyline points="69.5,420.4 76.5,429.4 83.5,438.4 90.5,447.4 97.5,449.7 104.5,452.4 111.5,453.5 118.5,453.5 125.5,453.5 132.5,453.4 139.5,437.6 146.5,418.3 153.5,419.5 160.5,411.5 167.5,415.7 174.5,399.9 181.5,404.7 188.5,402.1 195.5,398.9 202.5,395.3 209.5,395.3 216.5,400.5 223.5,402.4 230.5,400.5 237.5,398.0 244.5,395.1 251.5,403.0 258.5,410.2 265.5,411.5 272.5,411.0 279.5,409.3 286.5,417.3 293.5,425.0 300.5,437.3 307.5,430.2 314.5,438.0 321.5,432.8 328.5,421.8 335.5,422.5 342.5,412.8 349.5,413.5 356.5,415.4 363.5,406.4 370.5,412.9 377.5,411.7 384.5,407.8 391.5,403.9 398.5,396.5 405.5,396.5 412.5,403.9 419.5,396.2 426.5,417.1 433.5,422.9 440.5,421.0 447.5,419.7 454.5,428.8 461.5,437.2 468.5,437.2 475.5,418.0 482.5,413.4 489.5,420.5 496.5,417.9 503.5,413.4 510.5,417.9 517.5,412.1 524.5,410.2 531.5,405.4 538.5,403.7 545.5,410.5 552.5,413.9 559.5,415.6 566.5,428.1 573.5,426.4 580.5,425.5 587.5,435.2 594.5,433.6 601.5,435.8 608.5,431.9 615.5,415.4 622.5,411.4 629.5,413.9" fill="none" stroke="#000" stroke-width="1.0" />
</g>
<g shape-rendering="crispEdges">
<rect x="424" y="46" width="7" height="1" fill="#000"/><rect x="426" y="44" width="1" height="4" fill="#000"/>
<rect x="242" y="134" width="7" height="1" fill="#000"/><rect x="244" y="132" width="1" height="4" fill="#000"/>
<rect x="137" y="264" width="7" height="1" fill="#000"/><rect x="139" y="261" width="1" height="4" fill="#000"/>
</g>
<g font-family="'Liberation Sans', 'Noto Sans CJK SC', sans-serif">
<text x="66.6" y="12.8" fill="#1a1a1a" font-size="12.5" font-weight="bold" text-anchor="start" >现货黄金</text>
<text x="116" y="12.8" fill="#e0983a" font-size="12.5" font-weight="normal" text-anchor="start" >【日线】</text>
<text x="186" y="12" fill="#222" font-size="12" font-weight="normal" text-anchor="start" textLength="132.5" lengthAdjust="spacingAndGlyphs">MA(5,10,30,60,100,200)</text>
<text x="324" y="12" fill="#222" font-size="12" font-weight="normal" text-anchor="start" textLength="73.5" lengthAdjust="spacingAndGlyphs">MA5:2041.35</text>
<text x="406.5" y="12" fill="#202068" font-size="12" font-weight="normal" text-anchor="start" textLength="81.5" lengthAdjust="spacingAndGlyphs">MA10:2039.42</text>
<text x="497.8" y="12" fill="#c63cc6" font-size="12" font-weight="normal" text-anchor="start" >MA3</text>
<text x="61" y="23" fill="#333" font-size="12" font-weight="normal" text-anchor="end" >2184.80</text>
<text x="665.5" y="23" fill="#333" font-size="12" font-weight="normal" text-anchor="start" >2184.80</text>
<text x="61" y="88.5" fill="#333" font-size="12" font-weight="normal" text-anchor="end" >2084.63</text>
<text x="665.5" y="88.5" fill="#333" font-size="12" font-weight="normal" text-anchor="start" >2084.63</text>
<text x="61" y="154" fill="#333" font-size="12" font-weight="normal" text-anchor="end" >1984.46</text>
<text x="665.5" y="154" fill="#333" font-size="12" font-weight="normal" text-anchor="start" >1984.46</text>
<text x="61" y="219" fill="#333" font-size="12" font-weight="normal" text-anchor="end" >1884.29</text>
<text x="665.5" y="219" fill="#333" font-size="12" font-weight="normal" text-anchor="start" >1884.29</text>
<text x="61" y="305.5" fill="#333" font-size="12" font-weight="normal" text-anchor="end" >31.86</text>
<text x="665.5" y="305.5" fill="#333" font-size="12" font-weight="normal" text-anchor="start" >31.86</text>
<text x="61" y="328.5" fill="#333" font-size="12" font-weight="normal" text-anchor="end" >12.48</text>
<text x="665.5" y="328.5" fill="#333" font-size="12" font-weight="normal" text-anchor="start" >12.48</text>
<text x="61" y="351.5" fill="#333" font-size="12" font-weight="normal" text-anchor="end" >-6.90</text>
<text x="665.5" y="351.5" fill="#333" font-size="12" font-weight="normal" text-anchor="start" >-6.90</text>
<text x="61" y="398" fill="#333" font-size="12" font-weight="normal" text-anchor="end" >86.60</text>
<text x="665.5" y="398" fill="#333" font-size="12" font-weight="normal" text-anchor="start" >86.60</text>
<text x="61" y="428.3" fill="#333" font-size="12" font-weight="normal" text-anchor="end" >46.81</text>
<text x="665.5" y="428.3" fill="#333" font-size="12" font-weight="normal" text-anchor="start" >46.81</text>
<text x="67.5" y="295.5" fill="#222" font-size="12" font-weight="normal" text-anchor="start" textLength="86" lengthAdjust="spacingAndGlyphs">MACD(26,12,9)</text>
<text x="157.5" y="295.5" fill="#222" font-size="12" font-weight="normal" text-anchor="start" textLength="51.5" lengthAdjust="spacingAndGlyphs">DIFF:6.86</text>
<text x="218.6" y="295.5" fill="#202068" font-size="12" font-weight="normal" text-anchor="start" textLength="49.5" lengthAdjust="spacingAndGlyphs">DEA:8.72</text>
<text x="275.7" y="295.5" fill="#c63cc6" font-size="12" font-weight="normal" text-anchor="start" textLength="69" lengthAdjust="spacingAndGlyphs">MACD:-3.70</text>
<text x="67.5" y="386.5" fill="#222" font-size="12" font-weight="normal" text-anchor="start" >RSI(6,12,24)</text>
<text x="139.4" y="386.5" fill="#222" font-size="12" font-weight="normal" text-anchor="start" >RSI1:59.18</text>
<text x="207.4" y="386.5" fill="#202068" font-size="12" font-weight="normal" text-anchor="start" >RSI2:55.92</text>
<text x="275.7" y="386.5" fill="#c63cc6" font-size="12" font-weight="normal" text-anchor="start" >RSI3:56.13</text>
<text x="113.6" y="467" fill="#333" font-size="12" font-weight="bold" text-anchor="start" >2023/10</text>
<text x="267.9" y="467" fill="#333" font-size="12" font-weight="bold" text-anchor="start" >2023/11</text>
<text x="421.9" y="467" fill="#333" font-size="12" font-weight="bold" text-anchor="start" >2023/12</text>
<text x="562" y="467" fill="#333" font-size="12" font-weight="bold" text-anchor="start" >2024/01</text>
<text x="8.6" y="469.6" fill="#e08a2a" font-size="13.6" font-weight="bold" text-anchor="start" >日线</text>
<text x="432" y="43" fill="#bb5656" font-size="12" font-weight="bold" text-anchor="start" >2144.68</text>
<text x="249.7" y="130.6" fill="#bb5656" font-size="12" font-weight="bold" text-anchor="start" >2009.27</text>
<text x="145" y="275.8" fill="#6e9e6e" font-size="12" font-weight="bold" text-anchor="start" >1810.33</text>
<rect x="662.5" y="107.5" width="70" height="17" fill="#fff" stroke="#d9a040" stroke-width="1"/>
<text x="665.5" y="120.3" fill="#b08a50" font-size="12" font-weight="normal" text-anchor="start" >2050.79</text>
</g>
<polygon points="40,468.5 48,468.5 44,461.5" fill="#e8762a"/>
<polygon points="721,107 725,107 725,100" fill="#e07828"/>
<circle cx="4" cy="379.7" r="3.3" fill="#fff" stroke="#111" stroke-width="1.2"/>
<circle cx="4" cy="379.7" r="1.8" fill="#c0103a"/>
<g stroke="#222" stroke-width="1"><line x1="3.5" y1="373" x2="3.5" y2="375"/><line x1="3.5" y1="384.5" x2="3.5" y2="386.5"/><line x1="9" y1="379.7" x2="11" y2="379.7"/><line x1="8" y1="375.5" x2="9.5" y2="374"/><line x1="8" y1="384" x2="9.5" y2="385.5"/></g>
<rect x="170.8" y="-2" width="10.4" height="13" fill="#fff" stroke="#161630" stroke-width="1.1"/>
<polyline points="171,9.4 174.3,5.2 177.4,8.3 181,5.6" fill="none" stroke="#161630" stroke-width="0.9"/>
<polyline points="171.8,5.8 174.3,2.6 177.4,5.5 181,3.2" fill="none" stroke="#161630" stroke-width="0.9"/>
<rect x="599.5" y="-2" width="13" height="14" fill="#eaf5fa" stroke="#3d5a6a" stroke-width="1"/>
<rect x="615.5" y="-2" width="13" height="14" fill="#eaf5fa" stroke="#3d5a6a" stroke-width="1"/>
<rect x="631.5" y="-2" width="13" height="14" fill="#eaf5fa" stroke="#3d5a6a" stroke-width="1"/>
<rect x="647.5" y="-2" width="13" height="14" fill="#eaf5fa" stroke="#3d5a6a" stroke-width="1"/>
<g fill="#2d4a5a" shape-rendering="crispEdges"><rect x="601.0" y="5" width="2.5" height="2"/><rect x="605.0" y="5" width="2" height="2"/><rect x="608.5" y="5" width="2.5" height="2"/><rect x="605.0" y="1" width="2" height="2.5"/><rect x="605.0" y="8.5" width="2" height="2.5"/></g>
<g stroke="#2d4a5a" fill="#2d4a5a" stroke-width="1"><line x1="618.0" y1="1.5" x2="618.0" y2="10.5"/><line x1="618.0" y1="9.5" x2="626.5" y2="9.5"/><polygon points="616.5,3 619.5,3 618.0,1" stroke="none"/><polygon points="616.5,9 619.5,9 618.0,11" stroke="none"/><polygon points="625.5,8 625.5,11 627.5,9.5" stroke="none"/></g>
<g fill="#2d4a5a"><rect x="621.0" y="2" width="1" height="6"/><polygon points="625.5,2.5 625.5,7.5 622.5,5" fill="#3d6a8a"/></g>
<g stroke="#2d4a5a" fill="#2d4a5a" stroke-width="1"><line x1="634.0" y1="1.5" x2="634.0" y2="10.5"/><line x1="634.0" y1="9.5" x2="642.5" y2="9.5"/><polygon points="632.5,3 635.5,3 634.0,1" stroke="none"/><polygon points="632.5,9 635.5,9 634.0,11" stroke="none"/><polygon points="641.5,8 641.5,11 643.5,9.5" stroke="none"/></g>
<polygon points="636.5,2 636.5,8 641.5,5" fill="#3a6f95"/>
<g stroke="#2d4a5a" fill="none" stroke-width="1"><rect x="649.5" y="1.5" width="4" height="8.5"/><line x1="653.5" y1="5.5" x2="656.5" y2="5.5" stroke-width="2"/><polygon points="656.0,2.5 656.0,8.5 659.0,5.5" fill="#2d4a5a" stroke="none"/></g>
</svg>
</div></body></html>
